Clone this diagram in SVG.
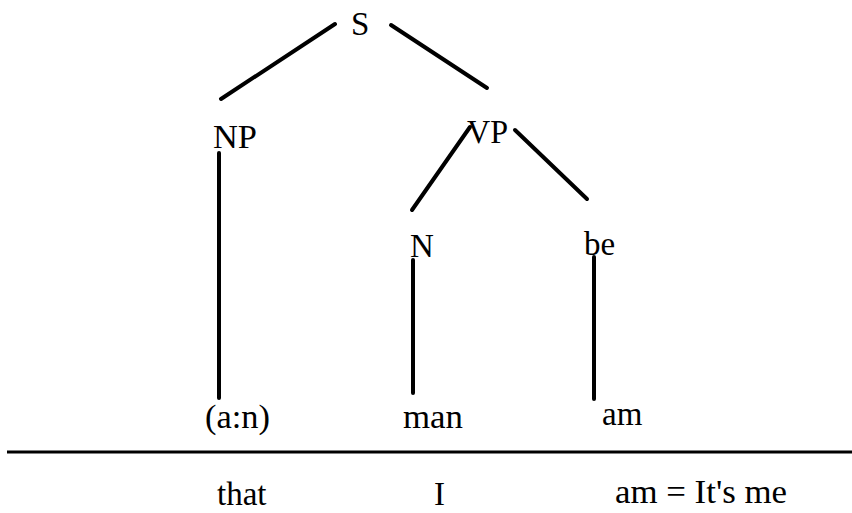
<svg xmlns="http://www.w3.org/2000/svg" width="852" height="513" viewBox="0 0 852 513">
<style>
text{font-family:'Liberation Serif','DejaVu Serif',serif;font-size:33px;fill:#000}
.e{stroke:#000;stroke-width:4;stroke-linecap:round;fill:none}
</style>
<rect width="852" height="513" fill="#fff"/>
<g id="connectors">
<line class="e" x1="221" y1="99" x2="335" y2="24"/>
<line class="e" x1="391" y1="25" x2="487" y2="88"/>
<line class="e" x1="219" y1="153" x2="219" y2="398"/>
<line class="e" x1="412" y1="210" x2="470" y2="127"/>
<line class="e" x1="515" y1="130" x2="587" y2="199"/>
<line class="e" x1="413" y1="260" x2="413" y2="393"/>
<line class="e" x1="594" y1="257" x2="594" y2="399"/>
</g>
<g id="node-S"><text x="351" y="35" font-family="Liberation Serif, serif">S</text></g>
<g id="node-NP"><text x="213" y="148" font-family="Liberation Serif, serif" textLength="44" lengthAdjust="spacingAndGlyphs">NP</text></g>
<g id="node-VP"><text x="467" y="143" font-family="Liberation Serif, serif" textLength="41" lengthAdjust="spacingAndGlyphs">VP</text></g>
<g id="node-N"><text x="410" y="257" font-family="Liberation Serif, serif">N</text></g>
<g id="node-be"><text x="584" y="255" font-family="Liberation Serif, serif">be</text></g>
<g id="node-an"><text x="205" y="428" font-family="Liberation Serif, serif" textLength="65" lengthAdjust="spacingAndGlyphs">(a:n)</text></g>
<g id="node-man"><text x="403" y="428" font-family="Liberation Serif, serif" textLength="60" lengthAdjust="spacingAndGlyphs">man</text></g>
<g id="node-am"><text x="602" y="425" font-family="Liberation Serif, serif">am</text></g>
<line x1="7" y1="452" x2="852" y2="452" stroke="#000" stroke-width="3"/>
<g id="gloss-that"><text x="217" y="505" font-family="Liberation Serif, serif">that</text></g>
<g id="gloss-I"><text x="434" y="505" font-family="Liberation Serif, serif">I</text></g>
<g id="gloss-am"><text x="615" y="503" font-family="Liberation Serif, serif" textLength="172" lengthAdjust="spacingAndGlyphs">am = It's me</text></g>
</svg>
